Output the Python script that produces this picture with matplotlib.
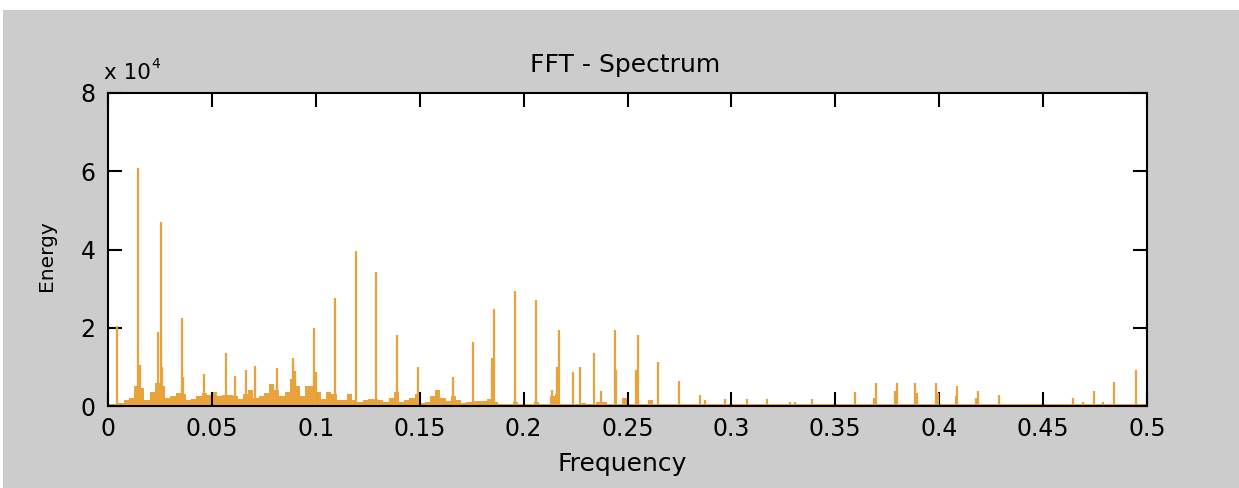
import numpy as np
import matplotlib
matplotlib.use("Agg")
import matplotlib.pyplot as plt
from matplotlib.patches import Rectangle
from matplotlib.ticker import FuncFormatter

# ---------------- data (energies in raw units) ----------------
# dominant spectral lines: frequency, energy
peak_freq = [0.0042, 0.0143, 0.0154, 0.0243, 0.0255, 0.0262, 0.0355, 0.0362,
             0.0463, 0.0566, 0.0609, 0.0666, 0.0709, 0.0812, 0.0889, 0.0900,
             0.0990, 0.1000, 0.1092, 0.1192, 0.1291, 0.1389, 0.1490, 0.1658,
             0.1757, 0.1849, 0.1859, 0.1960, 0.2060, 0.2135, 0.2159, 0.2172,
             0.2236, 0.2271, 0.2337, 0.2371, 0.2438, 0.2446, 0.2539, 0.2549,
             0.2649, 0.2749, 0.2849, 0.2873, 0.2969, 0.3074, 0.3170, 0.3282,
             0.3306, 0.3386, 0.3595, 0.3688, 0.3696, 0.3786, 0.3795, 0.3885,
             0.3895, 0.3986, 0.3994, 0.4079, 0.4087, 0.4177, 0.4188, 0.4288,
             0.4379, 0.4642, 0.4690, 0.4745, 0.4788, 0.4843, 0.4946]
peak_energy = [20500, 60800, 10500, 18900, 47100, 10000, 22400, 7500,
               8200, 13500, 7600, 9300, 10200, 9600, 12300, 9000,
               20000, 8800, 27700, 39500, 34200, 18200, 10000, 7500,
               16400, 12300, 24700, 29400, 27100, 4200, 10000, 19400,
               8800, 10000, 13500, 3900, 19400, 9200, 9200, 18200,
               11200, 6400, 2700, 1500, 1700, 1800, 1800, 1000,
               1000, 1700, 3500, 2000, 5800, 3800, 5800, 5800,
               3200, 5800, 3200, 2500, 5000, 2000, 3800, 2800,
               500, 2100, 900, 3800, 900, 6200, 9200]

# broadband background level, one value per 0.0025-wide frequency bin from 0
bg_step = 0.0025
bg_energy = [500, 500, 800, 1500, 2000, 5000, 4500, 1500, 3500, 6000,
             5000, 2000, 2500, 3300, 3000, 1500, 1800, 2500, 3300, 2700,
             3700, 2500, 2800, 2700, 2500, 1800, 3000, 4000, 2000, 2500,
             3300, 5500, 4000, 2500, 3500, 7000, 5000, 2500, 5000, 5000,
             3700, 1800, 3500, 3000, 1500, 1500, 3000, 1500, 1000, 1500,
             1800, 1800, 1500, 1000, 2000, 3700, 1000, 1500, 2000, 3000,
             800, 1000, 2500, 4000, 2000, 1200, 2500, 1500, 800, 1000,
             1200, 1200, 1200, 1800, 1000, 500, 500, 500, 1000, 400,
             400, 400, 1000, 500, 500, 2500, 3000, 500, 500, 500,
             500, 800, 500, 500, 1000, 1000, 400, 400, 400, 2000,
             500, 400, 400, 400, 1500, 400, 400, 400, 400, 400,
             400, 400, 400, 400, 400, 400, 400, 400, 400, 400]
noise_floor = 600

x_ticks = [0, 0.05, 0.1, 0.15, 0.2, 0.25, 0.3, 0.35, 0.4, 0.45, 0.5]
y_ticks = [0, 20000, 40000, 60000, 80000]

ORANGE = "#E8A33D"
W, H = 1239, 488

fig = plt.figure(figsize=(W / 100, H / 100), dpi=100)
fig.patch.set_facecolor("white")
fig.add_artist(Rectangle((3 / W, 0), 1, (H - 10) / H, transform=fig.transFigure,
                         facecolor="#cccccc", edgecolor="none", zorder=-5))

ax = fig.add_axes([108 / W, (H - 406) / H, 1039 / W, 313 / H])
ax.set_facecolor("white")

edges = np.arange(len(bg_energy) + 1) * bg_step
ax.fill_between([0, 0.5], 0, noise_floor, color=ORANGE, lw=0, zorder=1)
ax.stairs(bg_energy, edges, fill=True, color=ORANGE, baseline=0, lw=0, zorder=1)
ax.vlines(peak_freq, 0, peak_energy, color=ORANGE, lw=1.6, zorder=2)

ax.set_xlim(0, 0.5)
ax.set_ylim(0, 80000)
ax.set_xticks(x_ticks)
ax.set_yticks(y_ticks)
ax.xaxis.set_major_formatter(FuncFormatter(lambda v, p: f"{v:g}"))
ax.yaxis.set_major_formatter(FuncFormatter(lambda v, p: f"{v / 1e4:g}"))
ax.tick_params(direction="in", length=10, width=1.5, top=True, right=True,
               labelsize=17, colors="black")
ax.tick_params(axis="x", pad=8)
ax.tick_params(axis="y", pad=9)
for s in ax.spines.values():
    s.set_linewidth(1.5)
    s.set_color("black")

fig.text(625 / W, 1 - 72 / H, "FFT - Spectrum", ha="center", va="baseline",
         fontsize=18)
fig.text(622 / W, 1 - 471 / H, "Frequency", ha="center", va="baseline",
         fontsize=18)
fig.text(47 / W, 1 - 256 / H, "Energy", rotation=90, ha="center", va="center",
         fontsize=14.5)
fig.text(104 / W, 1 - 79 / H, "x 10", ha="left", va="baseline", fontsize=15.5)
fig.text(151 / W, 1 - 68 / H, "4", ha="left", va="baseline", fontsize=10)

fig.savefig("out.png", dpi=100, facecolor=fig.get_facecolor())
